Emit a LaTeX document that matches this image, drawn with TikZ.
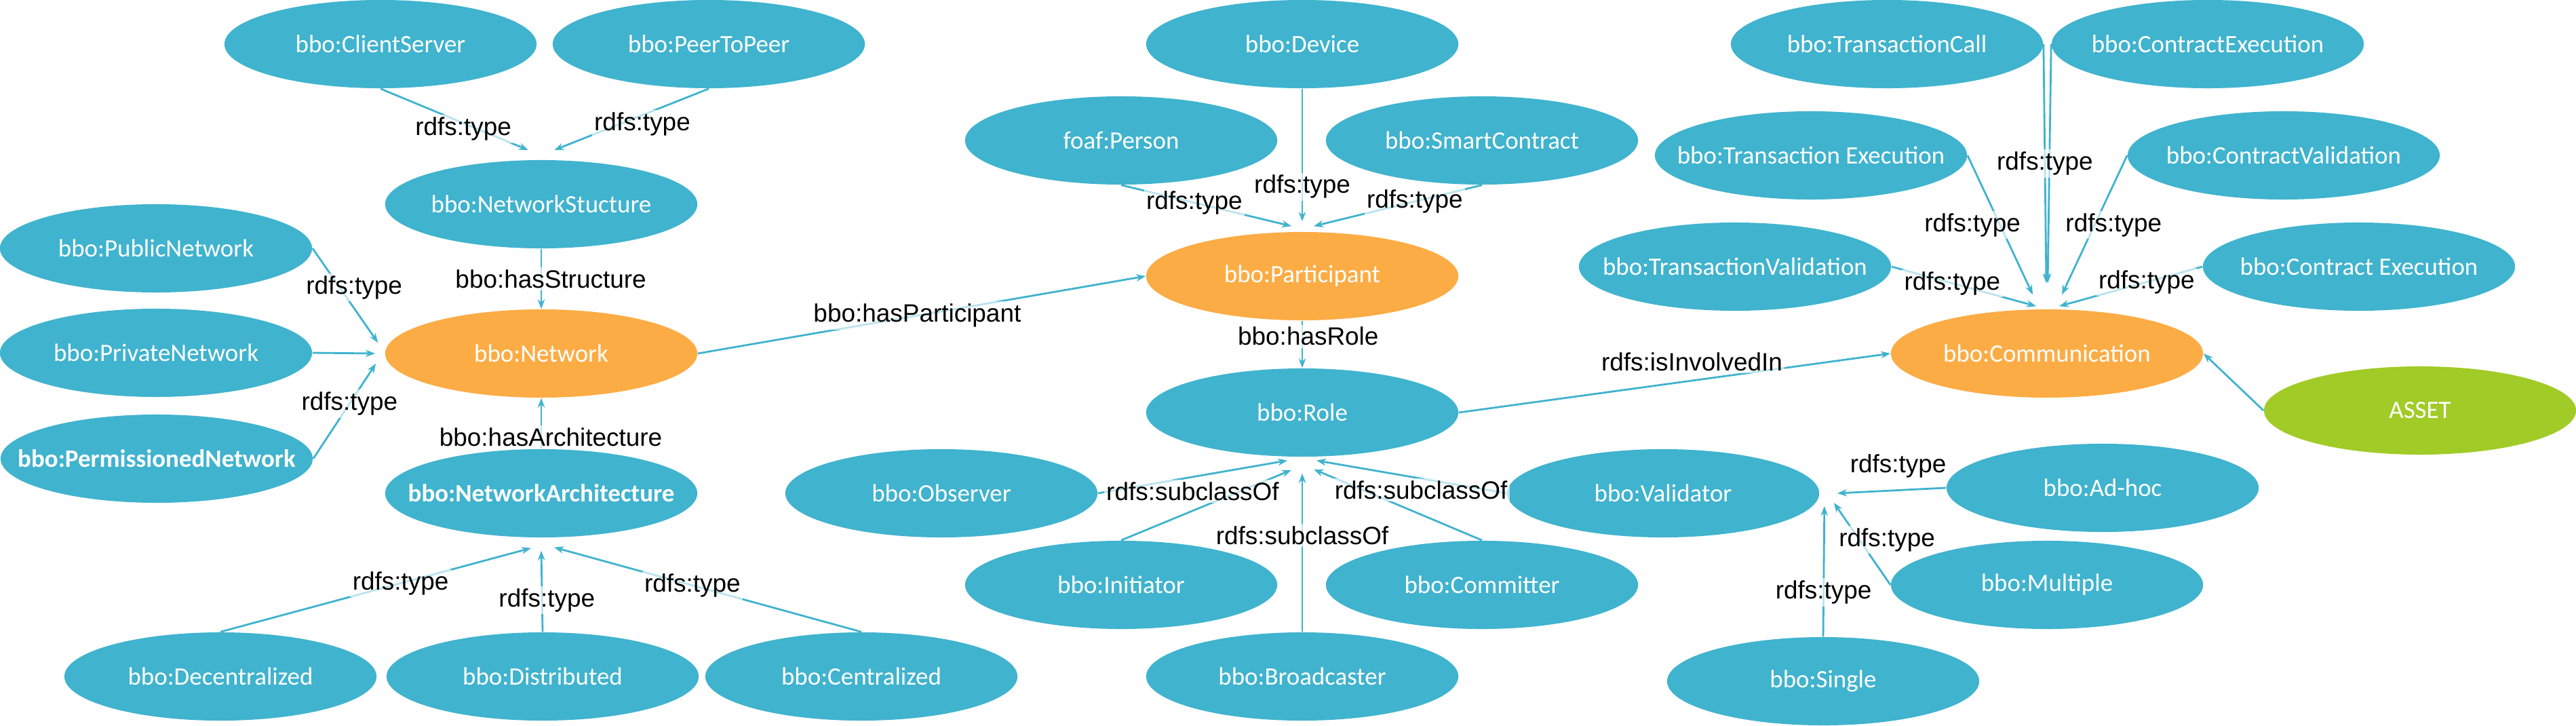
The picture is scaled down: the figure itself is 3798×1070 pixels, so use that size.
\documentclass[tikz,border=0pt]{standalone}
\usepackage{fontspec}
\setmainfont{Carlito}
\newfontfamily\lblfont{Liberation Sans}
\usetikzlibrary{shapes.geometric,arrows.meta,calc}
\definecolor{clsblue}{RGB}{64,179,206}
\definecolor{keyorange}{RGB}{252,172,69}
\definecolor{assetgreen}{RGB}{161,203,38}
\begin{document}
\begin{tikzpicture}
    [%%%%%%%%%%%%%%%%%%%%%%%%%%%%%%
        x=0.01cm, y=-0.01cm,
        cls/.style={ellipse, fill=clsblue, minimum width=4.6cm, minimum height=1.3cm, inner xsep=-3cm, inner ysep=0pt, text=white, font=\fontsize{10.5}{12}\selectfont},
        key/.style={cls, fill=keyorange},
        asset/.style={cls, fill=assetgreen},
        rel/.style={draw=clsblue, line width=0.8pt, -{Stealth[length=4pt,width=3pt]}},
        lbl/.style={fill=white, fill opacity=0.65, text opacity=1, inner sep=1pt, text=black, font=\lblfont\fontsize{10.5}{12}\selectfont},
    ]%%%%%%%%%%%%%%%%%%%%%%%%%%%%%%
    \useasboundingbox (0,0) rectangle (3798,1070);

    \node[cls] (cs) at (561,65) {bbo:ClientServer};
    \node[cls] (pp) at (1045,65) {bbo:PeerToPeer};
    \node[cls] (ns) at (798,301) {bbo:NetworkStucture};
    \node[cls] (pub) at (230,366) {bbo:PublicNetwork};
    \node[cls] (priv) at (230,520) {bbo:PrivateNetwork};
    \node[key] (net) at (798,521) {bbo:Network};
    \node[cls] (perm) at (231,676) {\bfseries bbo:PermissionedNetwork};
    \node[cls] (na) at (798,727) {\bfseries bbo:NetworkArchitecture};
    \node[cls] (dec) at (325,997) {bbo:Decentralized};
    \node[cls] (dist) at (800,997) {bbo:Distributed};
    \node[cls] (cen) at (1270,997) {bbo:Centralized};

    \node[cls] (dev) at (1920,65) {bbo:Device};
    \node[cls] (per) at (1653,207) {foaf:Person};
    \node[cls] (sc) at (2185,207) {bbo:SmartContract};
    \node[key] (part) at (1920,407) {bbo:Participant};
    \node[cls] (role) at (1920,608) {bbo:Role};
    \node[cls] (obs) at (1388,727) {bbo:Observer};
    \node[cls] (val) at (2452,727) {bbo:Validator};
    \node[cls] (ini) at (1653,862) {bbo:Initiator};
    \node[cls] (com) at (2185,862) {bbo:Committer};
    \node[cls] (bro) at (1920,997) {bbo:Broadcaster};

    \node[cls] (tc) at (2782,65) {bbo:TransactionCall};
    \node[cls] (ce) at (3255,65) {bbo:ContractExecution};
    \node[cls] (te) at (2670,229) {bbo:Transaction Execution};
    \node[cls] (cv) at (3367,229) {bbo:ContractValidation};
    \node[cls] (tv) at (2558,393) {bbo:TransactionValidation};
    \node[cls] (cex) at (3478,393) {bbo:Contract Execution};
    \node[key] (comm) at (3018,521) {bbo:Communication};
    \node[asset] (asset) at (3568,605) {ASSET};
    \node[cls] (adh) at (3100,719) {bbo:Ad-hoc};
    \node[cls] (mul) at (3018,862) {bbo:Multiple};
    \node[cls] (sin) at (2688,1004) {bbo:Single};

    % network side
    \draw[rel] (cs.south) -- node[lbl, pos=.56, yshift=-2.5pt] {rdfs:type} ($(ns.north)+(-19,-14)$);
    \draw[rel] (pp.south) -- node[lbl, pos=.43, yshift=-3.7pt] {rdfs:type} ($(ns.north)+(19,-14)$);
    \draw[rel] (ns.south) -- node[lbl, pos=.5, xshift=4pt] {bbo:hasStructure} (net.north);
    \draw[rel] (priv.east) -- ($(net.west)+(-14,0)$);
    \draw[rel] (pub.east) -- node[lbl, pos=.49, xshift=4pt, yshift=3pt] {rdfs:type} ($(net.west)+(-10,-16)$);
    \draw[rel] (perm.east) -- node[lbl, pos=.58] {rdfs:type} ($(net.west)+(-13,15)$);
    \draw[rel] (na.north) -- node[lbl, pos=.23, xshift=4pt] {bbo:hasArchitecture} (net.south);
    \draw[rel] (dec.north) -- node[lbl, pos=.58] {rdfs:type} ($(na.south)+(-15,15)$);
    \draw[rel] (dist.north) -- node[lbl, pos=.39, xshift=2pt] {rdfs:type} ($(na.south)+(0,19)$);
    \draw[rel] (cen.north) -- node[lbl, pos=.55] {rdfs:type} ($(na.south)+(19,14)$);

    % participant and role
    \draw[rel] (net.east) -- node[lbl, pos=.49] {bbo:hasParticipant} (part.west);
    \draw[rel] (dev.south) -- node[lbl, pos=.74] {rdfs:type} ($(part.north)+(0,-15)$);
    \draw[rel] (per.south) -- node[lbl, pos=.43] {rdfs:type} ($(part.north)+(-16,-8)$);
    \draw[rel] (sc.south) -- node[lbl, pos=.40] {rdfs:type} ($(part.north)+(17,-8)$);
    \draw[rel] (part.south) -- node[lbl, pos=.33, xshift=2.5pt] {bbo:hasRole} (role.north);
    \draw[rel] (role.east) -- node[lbl, pos=.54, yshift=8pt] {rdfs:isInvolvedIn} (comm.west);
    \draw[rel] (ini.north) -- ($(role.south)+(-16,19)$);
    \draw[rel] (obs.east) -- node[lbl, pos=.5, yshift=-6pt] {rdfs:subclassOf} ($(role.south)+(-22,5)$);
    \draw[rel] (bro.north) -- node[lbl, pos=.61] {rdfs:subclassOf} ($(role.south)+(0,24)$);
    \draw[rel] (com.north) -- ($(role.south)+(17,18)$);
    \draw[rel] (val.west) -- node[lbl, pos=.45, yshift=-4.8pt] {rdfs:subclassOf} ($(role.south)+(21,5)$);

    % validator kinds
    \draw[rel] (adh.west) -- node[lbl, pos=.44, yshift=10pt] {rdfs:type} ($(val.east)+(26,0)$);
    \draw[rel] (mul.west) -- node[lbl, pos=.55, xshift=11.6pt] {rdfs:type} ($(val.east)+(21,14)$);
    \draw[rel] (sin.north) -- node[lbl, pos=.34] {rdfs:type} ($(val.east)+(7,19)$);

    % communication
    \draw[rel] (ce.west) -- ($(comm.north)+(1,-38)$);
    \draw[rel] (tc.east) -- node[lbl, pos=.5] {rdfs:type} ($(comm.north)+(-1,-38)$);
    \draw[rel] (te.east) -- node[lbl, pos=.5, xshift=-11.6pt] {rdfs:type} ($(comm.north)+(-21,-21)$);
    \draw[rel] (cv.west) -- node[lbl, pos=.5, xshift=8pt] {rdfs:type} ($(comm.north)+(22,-21)$);
    \draw[rel] (tv.east) -- node[lbl, pos=.42] {rdfs:type} ($(comm.north)+(-16,-4)$);
    \draw[rel] (cex.west) -- node[lbl, pos=.39] {rdfs:type} ($(comm.north)+(18,-4)$);
    \draw[rel] (asset.west) -- (comm.east);
\end{tikzpicture}
\end{document}
